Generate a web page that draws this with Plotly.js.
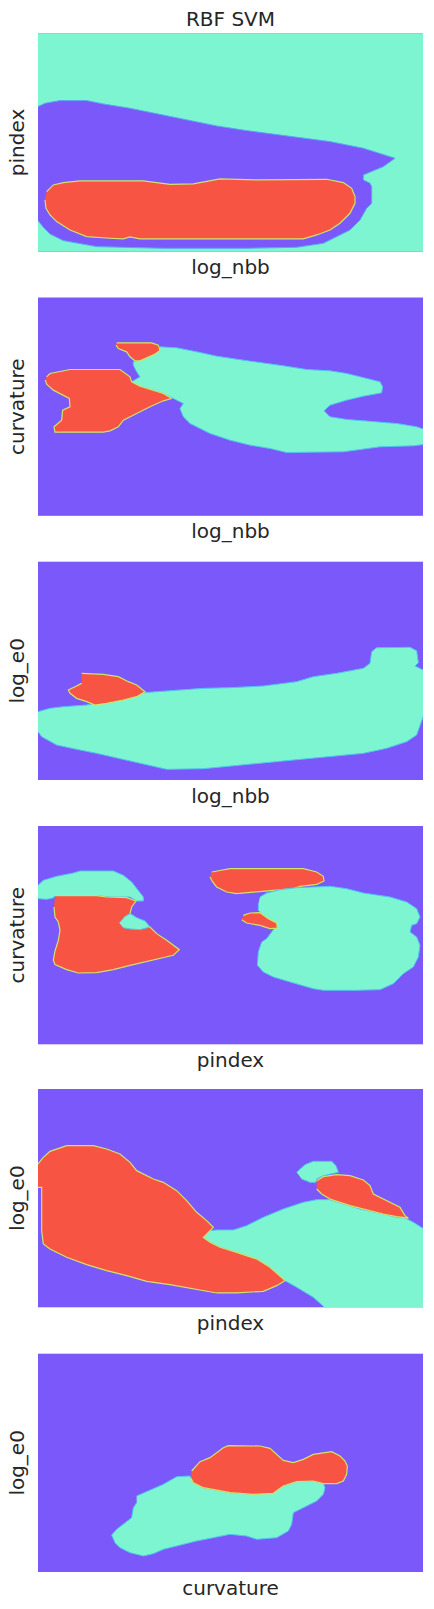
<!DOCTYPE html>
<html>
<head>
<meta charset="utf-8">
<script src="https://cdn.plot.ly/plotly-3.0.1.min.js"></script>
<style>
  html, body { margin: 0; padding: 0; background: #ffffff; }
  #chart { width: 434px; height: 1609px; }
</style>
</head>
<body>
<div id="chart"></div>
<script>
// Decision regions of an RBF SVM, one panel per feature pair.
// Region outlines are [x, y] vertices in each panel's own frame (no ticks shown).

const panelX = ['log_nbb', 'log_nbb', 'log_nbb', 'pindex', 'pindex', 'curvature'];
const panelY = ['pindex', 'curvature', 'log_e0', 'curvature', 'log_e0', 'log_e0'];
const panelTop = [100, 52, 65, 87, 105, 128];     // y frame per panel (runs downward)
const panelBg = ['aqua', 'purple', 'purple', 'purple', 'purple', 'purple'];

// panel 1 — log_nbb vs pindex
const p1Purple = [[10,320],[24,320],[45,310],[90,302],[170,302],[220,312],[300,325],[400,345],[500,365],
  [560,378],[650,392],[750,405],[800,410],[900,425],[1000,445],[1050,462],[1095,475],[1060,500],
  [1030,512],[1000,525],[1000,540],[1020,550],[1025,560],[1025,610],[1010,625],[990,660],[960,690],
  [920,710],[880,730],[800,742],[650,745],[400,745],[200,740],[100,722],[60,702],[40,682],[24,662],[10,662]];
const p1Red = [[50,575],[70,555],[100,548],[150,543],[340,543],[420,553],[490,552],[570,537],[680,540],
  [800,538],[890,538],[940,548],[965,565],[975,590],[975,610],[960,640],[930,670],[900,690],[860,705],
  [820,717],[330,717],[300,711],[280,717],[240,715],[170,710],[120,690],[80,665],[60,645],[48,625],[45,600]];

// panel 2 — log_nbb vs curvature
const p2Aqua = [[390,200],[440,203],[500,215],[560,228],[640,240],[700,248],[760,257],[830,268],[900,272],
  [950,280],[1010,295],[1050,305],[1058,320],[1055,338],[1000,348],[950,360],[900,375],[882,392],
  [900,410],[950,418],[1000,422],[1100,430],[1160,440],[1190,450],[1190,492],[1150,497],[1050,500],
  [940,515],[770,517],[720,505],[660,495],[600,480],[540,460],[480,430],[460,410],[450,385],[460,370],
  [440,360],[425,352],[400,340],[370,330],[330,318],[305,305],[330,290],[320,275],[310,255],[310,245],
  [330,240],[360,225],[385,210]];
const p2RedBig = [[50,290],[60,280],[120,268],[270,268],[300,290],[305,305],[330,318],[370,330],[400,340],
  [425,355],[400,362],[360,380],[320,400],[280,420],[265,440],[240,452],[220,456],[75,456],[72,440],
  [95,420],[98,390],[120,380],[118,355],[70,330],[50,312],[46,300]];
const p2RedSmall = [[260,188],[365,188],[385,195],[390,210],[375,222],[350,232],[330,242],[315,242],
  [300,230],[290,215],[265,205],[258,195]];

// panel 3 — log_nbb vs log_e0
const p3Aqua = [[10,515],[24,515],[60,505],[100,500],[170,495],[200,490],[230,490],[290,475],[340,458],
  [430,452],[520,445],[600,443],[700,438],[800,425],[850,410],[920,400],[1000,385],[1020,370],
  [1025,335],[1040,323],[1140,322],[1160,332],[1165,368],[1155,378],[1190,395],[1190,500],[1160,585],
  [1130,605],[1070,625],[1000,640],[850,655],[700,668],[600,680],[520,686],[410,688],[340,672],
  [270,655],[200,640],[150,630],[80,615],[35,590],[24,575],[10,575]];
const p3Red = [[155,400],[220,403],[265,410],[295,425],[320,435],[345,455],[320,470],[280,480],[230,490],
  [195,495],[170,485],[140,475],[120,460],[115,450],[135,440],[155,430]];

// panel 4 — pindex vs curvature
const p4AquaLeft = [[10,265],[24,265],[40,250],[80,238],[130,228],[150,222],[250,222],[280,235],[305,255],
  [330,285],[340,300],[340,312],[320,312],[300,300],[240,300],[200,296],[75,296],[70,303],[50,307],
  [24,305],[10,305]];
const p4RedLeft = [[75,296],[200,296],[230,300],[290,302],[318,312],[305,330],[300,350],[330,372],
  [360,390],[380,410],[410,430],[448,458],[430,475],[400,482],[350,492],[300,505],[250,518],[200,527],
  [145,528],[110,518],[75,503],[70,490],[75,462],[85,430],[90,400],[85,375],[75,360],[72,330]];
const p4AquaNotch = [[268,378],[285,358],[300,350],[320,362],[345,372],[360,390],[330,398],[300,396],[280,392]];
const p4RedTop = [[545,225],[600,215],[820,215],[860,225],[880,238],[882,252],[860,262],[810,268],
  [790,275],[710,283],[620,290],[590,285],[560,270],[548,255],[540,240]];
const p4AquaRight = [[690,300],[710,288],[750,278],[800,272],[900,268],[950,275],[1000,288],[1080,300],
  [1130,315],[1160,335],[1170,360],[1160,380],[1145,385],[1140,405],[1160,420],[1170,445],[1165,480],
  [1150,510],[1120,530],[1090,560],[1050,578],[980,580],[880,580],[850,575],[780,555],[730,540],
  [700,525],[682,505],[685,465],[695,435],[710,425],[730,400],[740,385],[720,370],[700,355],[685,340],[685,320]];
const p4RedMid = [[640,355],[660,348],[690,347],[715,365],[740,378],[742,393],[720,395],[690,385],
  [650,378],[635,368]];

// panel 5 — pindex vs log_e0
const p5Aqua = [[520,550],[540,530],[560,528],[610,528],[650,515],[700,490],[760,465],[820,445],[860,437],
  [900,437],[940,450],[990,465],[1060,480],[1100,490],[1125,492],[1150,505],[1190,530],[1190,775],
  [900,775],[850,730],[800,700],[765,680],[720,640],[680,615],[620,595],[570,580],[540,565]];
const p5RedBig = [[10,330],[24,330],[40,310],[60,292],[110,275],[190,275],[230,285],[270,300],[300,325],
  [320,350],[370,375],[400,385],[440,410],[470,440],[500,475],[530,500],[550,520],[540,530],[520,550],
  [540,565],[570,580],[620,595],[680,615],[720,640],[765,680],[740,695],[700,712],[620,717],[560,717],
  [420,692],[350,682],[290,665],[230,650],[170,632],[110,610],[60,585],[40,570],[35,530],[35,400],[10,400]];
const p5AquaSmall = [[800,355],[825,332],[850,322],[905,322],[918,335],[925,355],[880,365],[860,375],
  [858,385],[840,385],[815,375]];
const p5RedRight = [[860,380],[880,368],[920,362],[960,365],[1000,378],[1020,395],[1030,420],[1060,435],
  [1090,450],[1110,460],[1125,485],[1135,493],[1120,490],[1100,488],[1060,480],[1000,465],[960,455],
  [930,445],[900,435],[875,420],[860,405]];

// panel 6 — curvature vs log_e0
const p6Aqua = [[320,555],[355,540],[400,520],[440,497],[480,495],[490,515],[520,530],[600,545],[670,550],
  [730,545],[760,525],[800,512],[850,510],[880,518],[885,530],[880,550],[860,570],[820,590],[790,605],
  [785,640],[775,660],[740,680],[680,685],[650,675],[600,670],[550,680],[500,690],[440,705],[400,715],
  [370,728],[340,735],[300,725],[270,710],[255,695],[245,672],[260,655],[290,630],[305,620],[310,590],[320,575]];
const p6Red = [[485,480],[510,452],[540,440],[580,410],[595,404],[690,405],[720,412],[740,430],[760,448],
  [790,455],[820,445],[850,430],[880,425],[905,422],[930,435],[945,450],[952,465],[950,490],[940,510],
  [920,518],[880,518],[850,510],[800,512],[760,525],[730,547],[670,550],[600,545],[520,530],[490,515],[482,500]];

// draw order per panel: later regions sit on top
const panelRegions = [
  [['purple', p1Purple], ['red', p1Red]],
  [['aqua', p2Aqua], ['red', p2RedBig], ['red', p2RedSmall]],
  [['aqua', p3Aqua], ['red', p3Red]],
  [['aqua', p4AquaLeft], ['red', p4RedLeft], ['aqua', p4AquaNotch], ['red', p4RedTop],
   ['aqua', p4AquaRight], ['red', p4RedMid]],
  [['aqua', p5Aqua], ['red', p5RedBig], ['aqua', p5AquaSmall], ['red', p5RedRight]],
  [['aqua', p6Aqua], ['red', p6Red]],
];

const FILL = { purple: '#7A58FA', aqua: '#7CF5D0', red: '#F85444' };
const EDGE = { purple: '#5aa6f4', aqua: '#52c4f0', red: '#cfe36a' };
const TEXT = '#262626';
const FONT = 'DejaVu Sans, sans-serif';

// ── panel geometry ──────────────────────────────────────────────────────────
const W = 434, H = 1609;
const M = { l: 38, r: 11, t: 33, b: 37 };
const PANEL_H = 218.3;
const panelPx = [33.3, 297.5, 561.7, 826, 1089, 1353.7];
const plotH = H - M.t - M.b;

const traces = [];
const layout = {
  width: W,
  height: H,
  margin: { l: M.l, r: M.r, t: M.t, b: M.b, pad: 0 },
  paper_bgcolor: '#ffffff',
  plot_bgcolor: FILL.purple,
  showlegend: false,
  font: { family: FONT, size: 20, color: TEXT },
  title: {
    text: 'RBF SVM',
    font: { family: FONT, size: 20, color: TEXT },
    x: 0.5, xref: 'paper',
    y: 1 - 19 / H, yref: 'container', yanchor: 'middle',
  },
  shapes: [],
};

panelRegions.forEach((regions, i) => {
  const n = i + 1;
  const xa = n === 1 ? 'x' : 'x' + n;
  const ya = n === 1 ? 'y' : 'y' + n;

  regions.forEach(([cls, pts]) => {
    traces.push({
      type: 'scatter',
      mode: 'lines',
      x: pts.map(p => p[0]),
      y: pts.map(p => p[1]),
      fill: 'toself',
      fillcolor: FILL[cls],
      line: { color: EDGE[cls], width: cls === 'red' ? 1.2 : 1 },
      hoverinfo: 'skip',
      xaxis: xa,
      yaxis: ya,
    });
  });

  const top = Math.min(1, 1 - (panelPx[i] - M.t) / plotH);
  const bottom = Math.max(0, top - PANEL_H / plotH);

  const axBase = {
    showgrid: false, zeroline: false, showline: false,
    ticks: '', showticklabels: false, fixedrange: true,
  };
  layout['xaxis' + (n === 1 ? '' : n)] = Object.assign({}, axBase, {
    domain: [0, 1],
    range: [24, 1179],
    anchor: ya,
    title: { text: panelX[i], standoff: 8, font: { family: FONT, size: 20, color: TEXT } },
  });
  layout['yaxis' + (n === 1 ? '' : n)] = Object.assign({}, axBase, {
    domain: [bottom, top],
    range: [panelTop[i] + 655, panelTop[i]],
    anchor: xa,
    title: { text: panelY[i], standoff: 6, font: { family: FONT, size: 20, color: TEXT } },
  });

  if (panelBg[i] !== 'purple') {
    layout.shapes.push({
      type: 'rect', layer: 'below',
      xref: xa + ' domain', yref: ya + ' domain',
      x0: 0, x1: 1, y0: 0, y1: 1,
      fillcolor: FILL[panelBg[i]], line: { width: 0 },
    });
  }
});

Plotly.newPlot('chart', traces, layout, { displayModeBar: false, staticPlot: true });
</script>
</body>
</html>
